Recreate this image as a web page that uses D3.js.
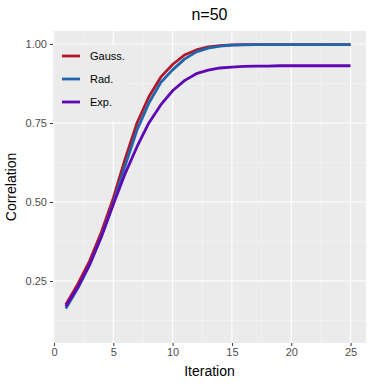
<!DOCTYPE html>
<html>
<head>
<meta charset="utf-8">
<script src="https://d3js.org/d3.v7.min.js"></script>
<style>
	body {margin: 0; background: #fff;}
	text {font-family: "Liberation Sans", Arial, sans-serif;}
</style>
</head>
<body>
<div id="chart"></div>
<script>
// values
var iteration = d3.range(1, 26);
var gauss = [0.175, 0.240, 0.313, 0.405, 0.512, 0.636, 0.750, 0.833, 0.895, 0.935,
	0.965, 0.981, 0.991, 0.995, 0.997, 0.998, 0.998, 0.998, 0.998, 0.998,
	0.998, 0.998, 0.998, 0.998, 0.998];
var rad = [0.163, 0.226, 0.300, 0.392, 0.496, 0.615, 0.728, 0.813, 0.878, 0.918,
	0.952, 0.975, 0.987, 0.993, 0.996, 0.997, 0.998, 0.998, 0.998, 0.998,
	0.998, 0.998, 0.998, 0.998, 0.998];
var expo = [0.170, 0.230, 0.302, 0.390, 0.492, 0.590, 0.675, 0.750, 0.807, 0.852,
	0.884, 0.906, 0.917, 0.924, 0.927, 0.929, 0.930, 0.930, 0.931, 0.931,
	0.931, 0.931, 0.931, 0.931, 0.931];
var seriesNames = ["Gauss.", "Rad.", "Exp."];
var seriesColors = ["#b2182b", "#2166ac", "#6008b4"];
var xTicks = [0, 5, 10, 15, 20, 25];
var yTicks = [0.25, 0.50, 0.75, 1.00];

var width = 379, height = 384;
var pLeft = 53, pRight = 366, pTop = 31, pBottom = 343;

var svg = d3.select("#chart").append("svg")
	.attr("width", width)
	.attr("height", height);

var x = d3.scaleLinear().domain([-0.08, 26.3]).range([pLeft, pRight]);
var y = d3.scaleLinear().domain([0.054, 1.041]).range([pBottom, pTop]);

// panel
svg.append("rect")
	.attr("x", pLeft).attr("y", pTop)
	.attr("width", pRight - pLeft).attr("height", pBottom - pTop)
	.style("fill", "#ebebeb");

// minor grid
[2.5, 7.5, 12.5, 17.5, 22.5].forEach(function(v) {
	svg.append("line")
		.attr("x1", x(v)).attr("x2", x(v)).attr("y1", pTop).attr("y2", pBottom)
		.style("stroke", "#f5f5f5").style("stroke-width", 0.6);
});
[0.125, 0.375, 0.625, 0.875].forEach(function(v) {
	svg.append("line")
		.attr("x1", pLeft).attr("x2", pRight).attr("y1", y(v)).attr("y2", y(v))
		.style("stroke", "#f5f5f5").style("stroke-width", 0.6);
});
// major grid
xTicks.forEach(function(v) {
	svg.append("line")
		.attr("x1", x(v)).attr("x2", x(v)).attr("y1", pTop).attr("y2", pBottom)
		.style("stroke", "#fff").style("stroke-width", 1.1);
});
yTicks.forEach(function(v) {
	svg.append("line")
		.attr("x1", pLeft).attr("x2", pRight).attr("y1", y(v)).attr("y2", y(v))
		.style("stroke", "#fff").style("stroke-width", 1.1);
});

// legend box sits over the grid
svg.append("rect")
	.attr("x", pLeft).attr("y", 45)
	.attr("width", 75).attr("height", 76)
	.style("fill", "#ebebeb");

// lines
var line = d3.line()
	.x(function(d) { return x(d[0]); })
	.y(function(d) { return y(d[1]); });

[gauss, rad, expo].forEach(function(s, i) {
	svg.append("path")
		.datum(iteration.map(function(it, k) { return [it, s[k]]; }))
		.attr("d", line)
		.style("fill", "none")
		.style("stroke", seriesColors[i])
		.style("stroke-width", 2.8)
		.style("stroke-linejoin", "round");
});

// axes
var xAxis = svg.append("g")
	.attr("transform", "translate(0," + pBottom + ")")
	.call(d3.axisBottom(x).tickValues(xTicks).tickSize(3).tickPadding(2));
var yAxis = svg.append("g")
	.attr("transform", "translate(" + pLeft + ",0)")
	.call(d3.axisLeft(y).tickValues(yTicks).tickFormat(d3.format(".2f")).tickSize(3).tickPadding(3));
[xAxis, yAxis].forEach(function(a) {
	a.select(".domain").remove();
	a.selectAll(".tick line").style("stroke", "#333").style("stroke-width", 1);
	a.selectAll(".tick text")
		.style("fill", "#4d4d4d")
		.style("font-size", "11px")
		.style("font-family", "'Liberation Sans', Arial, sans-serif");
});

// legend
seriesNames.forEach(function(n, i) {
	var ly = 56 + i * 23;
	svg.append("line")
		.attr("x1", 62).attr("x2", 80).attr("y1", ly).attr("y2", ly)
		.style("stroke", seriesColors[i]).style("stroke-width", 2.8);
	svg.append("text")
		.attr("x", 90).attr("y", ly + 4)
		.style("font-size", "11px")
		.style("fill", "#000")
		.text(n);
});

// titles
svg.append("text")
	.attr("x", (pLeft + pRight) / 2).attr("y", 20)
	.attr("text-anchor", "middle")
	.style("font-size", "16px")
	.text("n=50");
svg.append("text")
	.attr("x", (pLeft + pRight) / 2).attr("y", 376)
	.attr("text-anchor", "middle")
	.style("font-size", "14px")
	.text("Iteration");
svg.append("text")
	.attr("transform", "translate(16," + (pTop + pBottom) / 2 + ") rotate(-90)")
	.attr("text-anchor", "middle")
	.style("font-size", "14px")
	.text("Correlation");
</script>
</body>
</html>
